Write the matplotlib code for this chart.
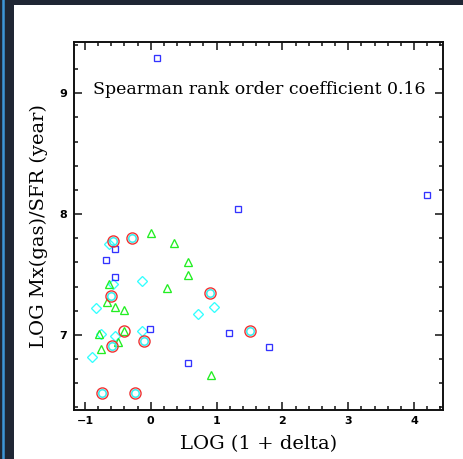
"""Gas depletion time vs. local density, with Spearman coefficient label."""
import numpy as np
import matplotlib.pyplot as plt
from matplotlib.patches import Rectangle
from matplotlib.lines import Line2D
from matplotlib.ticker import MultipleLocator

# blue squares
sq_x = [0.09, 4.19, 1.33, 1.19, 1.80, 0.57, -0.01, -0.55, -0.68, -0.54]
sq_y = [9.29, 8.16, 8.04, 7.02, 6.90, 6.77, 7.05, 7.71, 7.62, 7.48]

# green triangles
tri_x = [0.00, 0.36, 0.57, 0.57, 0.25, 0.91, -0.63, -0.66, -0.54, -0.40,
         -0.79, -0.41, -0.75, -0.50]
tri_y = [7.84, 7.76, 7.60, 7.50, 7.39, 6.67, 7.42, 7.27, 7.23, 7.21,
         7.01, 7.03, 6.88, 6.94]

# cyan diamonds
dia_x = [-0.63, -0.58, -0.13, -0.83, 0.72, 0.96, -0.13, -0.76, -0.54, -0.90]
dia_y = [7.75, 7.42, 7.45, 7.22, 7.17, 7.23, 7.03, 7.01, 6.99, 6.82]

# red rings (highlighted objects)
ring_x = [-0.57, -0.29, -0.60, 0.90, -0.41, -0.59, -0.11, -0.74, -0.24, 1.50]
ring_y = [7.78, 7.80, 7.32, 7.35, 7.03, 6.91, 6.95, 6.52, 6.52, 7.03]

# cyan circles inside the rings
core_x = [-0.57, -0.29, -0.60, 0.90, -0.59, -0.11, -0.74, -0.24, 1.50]
core_y = [7.78, 7.80, 7.32, 7.35, 6.91, 6.95, 6.52, 6.52, 7.03]

spearman = 0.16


def main():
    W, H = 463, 459
    fig = plt.figure(figsize=(W / 100, H / 100), dpi=100)
    fig.patch.set_facecolor('#1f2634')
    # white slide area + blue edge line of the screenshot
    fig.add_artist(Rectangle((14 / W, 0), 1, 1 - 5 / H, transform=fig.transFigure,
                             facecolor='white', edgecolor='none', zorder=0))
    fig.add_artist(Line2D([3 / W, 3 / W], [0, 1], transform=fig.transFigure,
                          color='#3d96d8', linewidth=1.8, zorder=1))

    ax = fig.add_axes([74 / W, 1 - 409.5 / H, (443 - 74) / W, (409.5 - 41.7) / H])
    ax.set_facecolor('white')

    mew = 0.95
    ax.plot(dia_x, dia_y, 'D', ms=4.6, mfc='none', mec='#33ffff', mew=mew)
    ax.plot(tri_x, tri_y, '^', ms=6.0, mfc='none', mec='#22ee22', mew=mew)
    ax.plot(sq_x, sq_y, 's', ms=5.0, mfc='none', mec='#3333ff', mew=mew)
    ax.plot(core_x, core_y, 'o', ms=5.4, mfc='none', mec='#33eeee', mew=1.1)
    ax.plot(ring_x, ring_y, 'o', ms=8.0, mfc='none', mec='#ee3333', mew=1.0)

    ax.set_xlim(-1.167, 4.44)
    ax.set_ylim(6.383, 9.427)

    ax.xaxis.set_major_locator(MultipleLocator(1))
    ax.xaxis.set_minor_locator(MultipleLocator(0.2))
    ax.yaxis.set_major_locator(MultipleLocator(1))
    ax.yaxis.set_minor_locator(MultipleLocator(0.2))
    ax.tick_params(which='both', direction='in', top=True, right=True,
                   width=1.1, color='#111111')
    ax.tick_params(which='major', length=5.8, labelsize=8, pad=5)
    ax.tick_params(which='minor', length=2.9)
    for lab in ax.get_xticklabels() + ax.get_yticklabels():
        lab.set_fontweight('bold')
    for sp in ax.spines.values():
        sp.set_linewidth(1.4)
        sp.set_color('#111111')

    ax.set_xlabel("LOG (1 + delta)", family='DejaVu Serif', fontsize=14, labelpad=6)
    ax.set_ylabel("LOG Mx(gas)/SFR (year)", family='DejaVu Serif', fontsize=14,
                  labelpad=8)
    ax.text(1.65, 9.03, f"Spearman rank order coefficient {spearman:.2f}",
            family='DejaVu Serif', fontsize=12.5, ha='center', va='center')

    plt.savefig("out.png", dpi=100, facecolor=fig.get_facecolor())


if __name__ == "__main__":
    main()
